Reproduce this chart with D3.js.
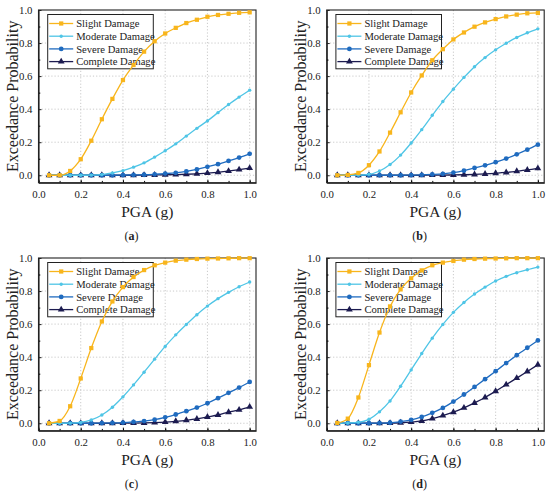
<!DOCTYPE html>
<html lang="en">
<head>
<meta charset="UTF-8">
<title>Fragility curves</title>
<script src="https://cdn.jsdelivr.net/npm/d3@7"></script>
<style>
  body { margin: 0; background: #fff; }
  svg text { font-family: "Liberation Serif", "Times New Roman", serif; fill: #222; }
</style>
</head>
<body>
<div id="chart"></div>
<script>
// PGA values (g)
const pga = [0.05, 0.10, 0.15, 0.20, 0.25, 0.30, 0.35, 0.40, 0.45, 0.50,
             0.55, 0.60, 0.65, 0.70, 0.75, 0.80, 0.85, 0.90, 0.95, 1.00];

const seriesNames = ["Slight Damage", "Moderate Damage", "Severe Damage", "Complete Damage"];
const panelLabels = ["a", "b", "c", "d"];
const xTicks = [0.0, 0.2, 0.4, 0.6, 0.8, 1.0];
const yTicks = [0.0, 0.2, 0.4, 0.6, 0.8, 1.0];

// panel (a)
const slightA   = [0, 0, 0.026, 0.097, 0.209, 0.339, 0.462, 0.576, 0.667, 0.748, 0.811, 0.858, 0.892, 0.921, 0.941, 0.959, 0.970, 0.977, 0.983, 0.986];
const moderateA = [0, 0, 0, 0, 0.001, 0.004, 0.014, 0.028, 0.049, 0.075, 0.110, 0.148, 0.190, 0.237, 0.284, 0.329, 0.379, 0.428, 0.473, 0.515];
const severeA   = [0, 0, 0, 0, 0, 0, 0, 0.001, 0.002, 0.003, 0.006, 0.010, 0.015, 0.023, 0.035, 0.051, 0.067, 0.087, 0.107, 0.130];
const completeA = [0, 0, 0, 0, 0, 0, 0, 0, 0, 0.001, 0.002, 0.003, 0.004, 0.006, 0.009, 0.013, 0.018, 0.025, 0.034, 0.043];

// panel (b)
const slightB   = [0, 0.002, 0.014, 0.061, 0.144, 0.258, 0.381, 0.501, 0.604, 0.696, 0.763, 0.822, 0.864, 0.899, 0.925, 0.945, 0.961, 0.972, 0.980, 0.982];
const moderateB = [0, 0, 0.001, 0.006, 0.026, 0.065, 0.122, 0.195, 0.276, 0.363, 0.446, 0.521, 0.592, 0.657, 0.712, 0.759, 0.799, 0.834, 0.862, 0.886];
const severeB   = [0, 0, 0, 0, 0, 0, 0, 0.001, 0.002, 0.005, 0.009, 0.016, 0.028, 0.044, 0.060, 0.079, 0.101, 0.127, 0.155, 0.185];
const completeB = [0, 0, 0, 0, 0, 0, 0, 0, 0, 0.001, 0.001, 0.002, 0.003, 0.005, 0.008, 0.012, 0.017, 0.024, 0.032, 0.042];

// panel (c)
const slightC   = [0, 0.014, 0.103, 0.271, 0.455, 0.616, 0.737, 0.824, 0.885, 0.927, 0.956, 0.972, 0.984, 0.990, 0.994, 0.996, 0.997, 0.998, 0.999, 0.999];
const moderateC = [0, 0, 0.001, 0.005, 0.020, 0.050, 0.097, 0.160, 0.232, 0.309, 0.388, 0.465, 0.535, 0.598, 0.657, 0.709, 0.754, 0.792, 0.826, 0.855];
const severeC   = [0, 0, 0, 0, 0, 0.001, 0.002, 0.004, 0.008, 0.013, 0.022, 0.036, 0.053, 0.073, 0.095, 0.121, 0.152, 0.184, 0.216, 0.250];
const completeC = [0, 0, 0, 0, 0, 0, 0, 0.001, 0.001, 0.002, 0.004, 0.007, 0.012, 0.018, 0.026, 0.038, 0.050, 0.067, 0.081, 0.099];

// panel (d)
const slightD   = [0.002, 0.028, 0.156, 0.352, 0.549, 0.707, 0.810, 0.877, 0.925, 0.956, 0.972, 0.982, 0.990, 0.994, 0.996, 0.997, 0.998, 0.999, 0.999, 0.999];
const moderateD = [0, 0.002, 0.006, 0.024, 0.069, 0.135, 0.224, 0.323, 0.422, 0.515, 0.598, 0.671, 0.731, 0.782, 0.824, 0.861, 0.889, 0.911, 0.929, 0.945];
const severeD   = [0, 0, 0, 0, 0.001, 0.003, 0.010, 0.020, 0.038, 0.063, 0.093, 0.131, 0.174, 0.220, 0.267, 0.315, 0.364, 0.412, 0.457, 0.501];
const completeD = [0, 0, 0, 0, 0, 0.001, 0.003, 0.007, 0.014, 0.028, 0.046, 0.067, 0.093, 0.123, 0.156, 0.194, 0.234, 0.273, 0.313, 0.354];

const panels = [
  [slightA, moderateA, severeA, completeA],
  [slightB, moderateB, severeB, completeB],
  [slightC, moderateC, severeC, completeC],
  [slightD, moderateD, severeD, completeD]
];

const colors = ["#f8b51c", "#4fc5e6", "#1f6bbf", "#1c1b50"];
const symbols = [d3.symbolSquare, d3.symbolCircle, d3.symbolCircle, d3.symbolTriangle];
const symbolSizes = [18, 9, 18, 20];
const serif = '"Liberation Serif", "Times New Roman", serif';

const W = 550, H = 494;
const pw = 217.5, ph = 172.7;
const origins = [[38.5, 10], [326.7, 10], [38.5, 258], [326.7, 258]];

const svg = d3.select("#chart").append("svg")
  .attr("width", W).attr("height", H);

const x = d3.scaleLinear().domain([0, 1.03]).range([0, pw]);
const y = d3.scaleLinear().domain([-0.045, 1.0]).range([ph, 0]);

panels.forEach((series, pi) => {
  const g = svg.append("g")
    .attr("transform", `translate(${origins[pi][0]},${origins[pi][1]})`);

  // dotted grid
  g.append("g").selectAll("line").data(xTicks.filter(d => d > 0)).join("line")
    .attr("x1", d => x(d)).attr("x2", d => x(d))
    .attr("y1", 0).attr("y2", ph)
    .attr("stroke", "#bdbdbd").attr("stroke-width", 0.8).attr("stroke-dasharray", "1.2,2");
  g.append("g").selectAll("line").data(yTicks.filter(d => d < 1)).join("line")
    .attr("x1", 0).attr("x2", pw)
    .attr("y1", d => y(d)).attr("y2", d => y(d))
    .attr("stroke", "#bdbdbd").attr("stroke-width", 0.8).attr("stroke-dasharray", "1.2,2");

  // axes (inward ticks, minor at 0.1)
  const xAxis = g.append("g").attr("transform", `translate(0,${ph})`)
    .call(d3.axisBottom(x).tickValues(xTicks).tickFormat(d3.format(".1f")).tickSizeInner(-3).tickSizeOuter(0).tickPadding(8));
  g.append("g").attr("transform", `translate(0,${ph})`)
    .call(d3.axisBottom(x).ticks(10).tickFormat("").tickSizeInner(-1.8).tickSizeOuter(0))
    .select(".domain").remove();
  const yAxis = g.append("g")
    .call(d3.axisLeft(y).tickValues(yTicks).tickFormat(d3.format(".1f")).tickSizeInner(-3).tickSizeOuter(0).tickPadding(6));
  g.append("g")
    .call(d3.axisLeft(y).tickValues([0.1, 0.3, 0.5, 0.7, 0.9]).tickFormat("").tickSizeInner(-1.8).tickSizeOuter(0))
    .select(".domain").remove();
  [xAxis, yAxis].forEach(a => {
    a.attr("font-family", serif).attr("font-size", 10.8);
    a.selectAll("text").attr("fill", "#222");
    a.selectAll("line").attr("stroke", "#222");
  });

  // frame
  g.append("rect").attr("width", pw).attr("height", ph)
    .attr("fill", "none").attr("stroke", "#222").attr("stroke-width", 1.1);

  // legend (curves are drawn over it)
  const lg = g.append("g").attr("transform", "translate(9.2,4.5)");
  lg.append("rect").attr("width", 105.6).attr("height", 54.3)
    .attr("fill", "#fff").attr("stroke", "#222").attr("stroke-width", 1);
  seriesNames.forEach((name, si) => {
    const ry = 9 + si * 12.7;
    lg.append("line").attr("x1", 1.5).attr("x2", 25.5).attr("y1", ry).attr("y2", ry)
      .attr("stroke", colors[si]).attr("stroke-width", 1.3);
    lg.append("path").attr("transform", `translate(13.5,${ry})`)
      .attr("d", d3.symbol().type(symbols[si]).size(symbolSizes[si]))
      .attr("fill", colors[si]);
    lg.append("text").attr("x", 28.5).attr("y", ry).attr("dy", "0.35em")
      .attr("font-family", serif)
      .style("font-size", "10.6px").text(name);
  });

  // curves
  const line = d3.line()
    .x((d, i) => x(pga[i]))
    .y(d => y(d))
    .curve(d3.curveMonotoneX);

  // draw from complete to slight so slight stays on top
  [3, 2, 1, 0].forEach(si => {
    const vals = series[si];
    g.append("path").datum(vals)
      .attr("d", line)
      .attr("fill", "none")
      .attr("stroke", colors[si])
      .attr("stroke-width", 1.3);
    g.append("g").selectAll("path").data(vals).join("path")
      .attr("transform", (d, i) => `translate(${x(pga[i])},${y(d)})`)
      .attr("d", d3.symbol().type(symbols[si]).size(symbolSizes[si]))
      .attr("fill", colors[si]);
  });

  // axis titles
  g.append("text")
    .attr("transform", `translate(-26.5,${ph / 2}) rotate(-90)`)
    .attr("text-anchor", "middle").attr("dy", "0.35em")
    .style("font-size", "16px").text("Exceedance Probability");
  g.append("text")
    .attr("x", pw / 2).attr("y", ph + 34)
    .attr("text-anchor", "middle")
    .style("font-size", "15.5px").text("PGA (g)");

  // panel label
  const pl = g.append("text")
    .attr("x", 93).attr("y", ph + 57)
    .attr("text-anchor", "middle")
    .style("font-size", "12px");
  pl.append("tspan").text("(");
  pl.append("tspan").attr("font-weight", "bold").text(panelLabels[pi]);
  pl.append("tspan").text(")");
});
</script>
</body>
</html>
